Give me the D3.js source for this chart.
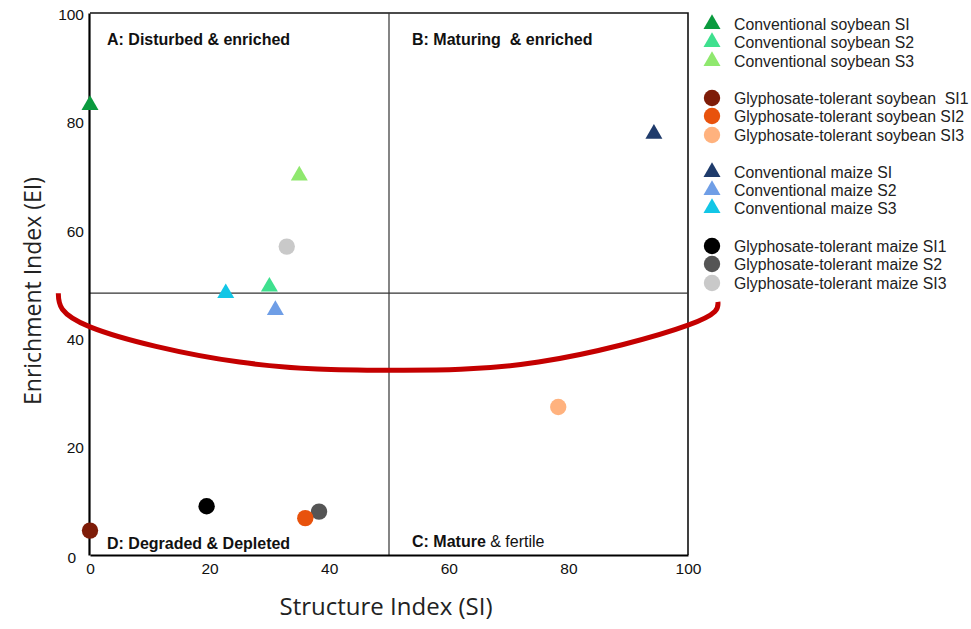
<!DOCTYPE html>
<html>
<head>
<meta charset="utf-8">
<script src="https://cdn.jsdelivr.net/npm/d3@7"></script>
<style>
  body { margin: 0; background: #fff; }
  svg { display: block; }
</style>
</head>
<body>
<div id="chartContainer"></div>
<script>
// series names (legend order)
const seriesNames = [
  "Conventional soybean SI",
  "Conventional soybean S2",
  "Conventional soybean S3",
  "Glyphosate-tolerant soybean  SI1",
  "Glyphosate-tolerant soybean SI2",
  "Glyphosate-tolerant soybean SI3",
  "Conventional maize SI",
  "Conventional maize S2",
  "Conventional maize S3",
  "Glyphosate-tolerant maize SI1",
  "Glyphosate-tolerant maize S2",
  "Glyphosate-tolerant maize SI3",
];
// structure index (x) and enrichment index (y) per series
const siValues = [0, 30, 35, 0, 36, 78.3, 94.3, 31, 22.7, 19.5, 38.3, 32.9];
const eiValues = [83, 49.5, 70, 4.5, 6.8, 27.3, 77.7, 45.2, 48.3, 9, 8, 56.9];
const shapes = ["tri", "tri", "tri", "dot", "dot", "dot", "tri", "tri", "tri", "dot", "dot", "dot"];

const xTicks = [0, 20, 40, 60, 80, 100];
const yTicks = [0, 20, 40, 60, 80, 100];

// quadrant split lines (as drawn)
const splitSI = 50;
const splitEI = 48.3;

// red annotation curve, in index units
const curveSI = [-5.3, 0, 25, 50, 75, 100, 105];
const curveEI = [48.3, 42.1, 35.6, 34.1, 35.6, 42.4, 46.7];

// colours, same order as seriesNames
const palette = [
  "#0a9a3e", "#3ee08e", "#8fe86e",
  "#7e1c08", "#e8520c", "#ffb27e",
  "#1f3b6b", "#6f9ee6", "#12c6e6",
  "#000000", "#555555", "#c9c9c9",
];

const W = 971, H = 629;
const margin = { left: 90, top: 13, right: 283, bottom: 74 };

const svg = d3.select("#chartContainer")
  .append("svg")
  .attr("width", W)
  .attr("height", H);

const x = d3.scaleLinear().domain([0, 100]).range([margin.left, W - margin.right]);
const y = d3.scaleLinear().domain([0, 100]).range([H - margin.bottom, margin.top]);

// frame top + right
svg.append("path")
  .attr("d", `M${x(0)},${y(100)}H${x(100)}V${y(0)}`)
  .attr("fill", "none")
  .attr("stroke", "#111")
  .attr("stroke-width", 1.6);

// quadrant lines
svg.append("line")
  .attr("x1", x(0)).attr("x2", x(100))
  .attr("y1", y(splitEI)).attr("y2", y(splitEI))
  .attr("stroke", "#333").attr("stroke-width", 1.2);
svg.append("line")
  .attr("x1", x(splitSI)).attr("x2", x(splitSI))
  .attr("y1", y(0)).attr("y2", y(100))
  .attr("stroke", "#333").attr("stroke-width", 1.2);

// axes
const gx = svg.append("g")
  .attr("transform", `translate(0,${y(0)})`)
  .call(d3.axisBottom(x).tickValues(xTicks).tickSize(0).tickPadding(8));
const gy = svg.append("g")
  .attr("transform", `translate(${x(0) - 1},0)`)
  .call(d3.axisLeft(y).tickValues(yTicks).tickSize(0).tickPadding(5));

[gx, gy].forEach(g => {
  g.select(".domain").attr("stroke", "#000").attr("stroke-width", 2.2);
  g.selectAll("text")
    .attr("font-family", "'Liberation Sans', Arial, sans-serif")
    .attr("font-size", 15.5)
    .attr("fill", "#111");
});
gy.selectAll("text").attr("dy", "0.4em");
gy.selectAll(".tick").filter(d => d === 0).select("text").attr("dy", "0.5em").attr("x", -13);

// quadrant labels
const qFont = "'Liberation Sans', Arial, sans-serif";
function quadLabel(px, py, parts) {
  const t = svg.append("text")
    .attr("x", px).attr("y", py)
    .attr("font-family", qFont)
    .attr("font-size", 16)
    .attr("fill", "#111")
    .attr("xml:space", "preserve");
  parts.forEach(p => t.append("tspan").attr("font-weight", p[1]).text(p[0]));
}
quadLabel(107, 45, [["A: Disturbed & enriched", "bold"]]);
quadLabel(412, 45, [["B: Maturing  & enriched", "bold"]]);
quadLabel(412, 547, [["C: Mature ", "bold"], ["& fertile", "normal"]]);
quadLabel(107, 549, [["D: Degraded & Depleted", "bold"]]);

// markers
const triSym = d3.symbol().type(d3.symbolTriangle).size(125);
const dotSym = d3.symbol().type(d3.symbolCircle).size(210);
function marker(g, i) {
  return g.append("path")
    .attr("d", shapes[i] === "tri" ? triSym() : dotSym())
    .attr("fill", palette[i]);
}

const drawOrder = d3.range(seriesNames.length).reverse();
const gPts = svg.append("g");
drawOrder.forEach(i => {
  const g = gPts.append("g")
    .attr("transform", `translate(${x(siValues[i])},${y(eiValues[i])})`);
  marker(g, i);
});

// red curve
const curvePts = curveSI.map((d, i) => [d, curveEI[i]]);
svg.append("path")
  .datum(curvePts)
  .attr("d", d3.line().x(d => x(d[0])).y(d => y(d[1])).curve(d3.curveNatural))
  .attr("fill", "none")
  .attr("stroke", "#c40000")
  .attr("stroke-width", 5)
  .attr("stroke-linecap", "butt");

// legend
const legendRows = [24, 42, 61, 98, 116, 135, 172, 190, 208, 246, 264, 283];
const gLeg = svg.append("g");
seriesNames.forEach((name, i) => {
  const g = gLeg.append("g").attr("transform", `translate(712,${legendRows[i]})`);
  marker(g, i);
  g.append("text")
    .attr("x", 22)
    .attr("dy", "0.36em")
    .attr("font-family", "'Liberation Sans', Arial, sans-serif")
    .attr("font-size", 15.8)
    .attr("fill", "#222")
    .attr("xml:space", "preserve")
    .text(name);
});

// axis titles
svg.append("text")
  .attr("x", 386).attr("y", 615)
  .attr("text-anchor", "middle")
  .attr("font-family", "'Open Sans', sans-serif")
  .attr("font-size", 24)
  .attr("fill", "#222")
  .text("Structure Index (SI)");
svg.append("text")
  .attr("transform", "translate(41,291) rotate(-90)")
  .attr("text-anchor", "middle")
  .attr("font-family", "'Open Sans', sans-serif")
  .attr("font-size", 23)
  .attr("fill", "#222")
  .text("Enrichment Index (EI)");
</script>
</body>
</html>
